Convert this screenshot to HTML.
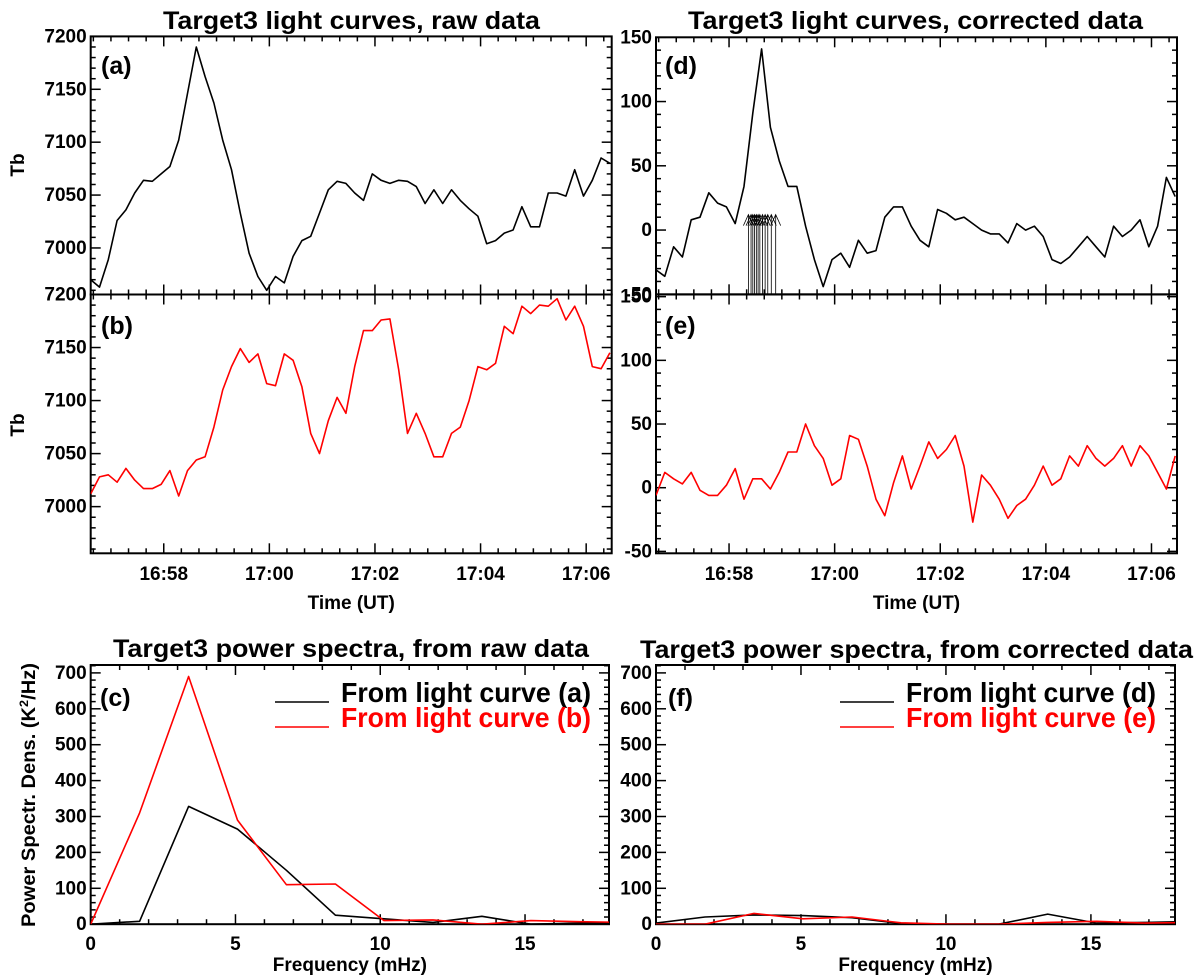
<!DOCTYPE html>
<html><head><meta charset="utf-8"><style>
html,body{margin:0;padding:0;background:#fff;}
svg{display:block;font-family:"Liberation Sans",Arial,sans-serif;font-weight:bold;}
</style></head><body>
<svg id="fig" width="1200" height="979" viewBox="0 0 1200 979" xmlns="http://www.w3.org/2000/svg"></svg>
<script>
// ---- data ----
const timeStartSec = 16*3600 + 56*60 + 37;   // left edge of time axes
const timeEndSec = timeStartSec + 592;
const sampleTimes = [];
for (let k = 0; k < 60; k++) sampleTimes.push(timeStartSec + 10*k);
const timeTickLabels = ["16:58","17:00","17:02","17:04","17:06"];
const rawA = [6970,6963,6989,7026,7036,7052,7064,7063,7070,7077,7102,7146,7190,7162,7137,7102,7074,7033,6995,6973,6960,6973,6967,6992,7007,7011,7033,7055,7063,7061,7052,7045,7070,7064,7061,7064,7063,7058,7042,7055,7042,7055,7045,7037,7030,7004,7007,7014,7017,7039,7020,7020,7052,7052,7049,7074,7049,7064,7085,7080];
const rawB = [7012,7028,7030,7023,7036,7025,7017,7017,7021,7034,7010,7034,7044,7047,7075,7110,7132,7149,7136,7144,7116,7114,7144,7138,7113,7069,7050,7081,7103,7088,7132,7166,7166,7176,7177,7129,7069,7088,7069,7047,7047,7069,7075,7100,7132,7129,7135,7170,7163,7189,7182,7190,7189,7196,7176,7189,7170,7132,7130,7145];
const corrD = [-31,-36,-13,-21,8,10,29,21,18,5,34,91,141,80,54,34,34,3,-23,-44,-23,-18,-29,-8,-18,-16,10,18,18,3,-8,-13,16,13,8,10,5,0,-3,-3,-10,5,0,3,-5,-23,-26,-21,-13,-5,-13,-21,3,-5,0,8,-13,3,41,26];
const corrE = [-6,12,7,3,12,-2,-6,-6,2,15,-9,7,7,-1,12,28,28,50,33,23,2,7,41,38,17,-9,-22,4,25,-1,17,36,23,30,41,17,-27,10,2,-9,-24,-14,-9,2,17,2,7,25,17,33,23,17,23,33,17,33,25,12,-1,25];
const arrowTimes = [105,108,110,112,114,116,118,121,124,127,131,136]; // seconds after timeStartSec
const freqs = [0,1.69,3.38,5.07,6.76,8.45,10.13,11.82,13.51,15.2,16.89,18.58];
const psdA = [0,8,328,265,150,25,15,5,22,0,3,5];
const psdB = [0,310,690,290,110,112,10,12,0,10,7,5];
const psdD = [3,20,26,24,18,2,0,0,28,3,5,8];
const psdE = [0,0,30,15,20,4,0,0,5,8,3,5];
const freqTickLabels = ["0","5","10","15"];

// ---- helpers ----
const NS = "http://www.w3.org/2000/svg";
const svg = document.getElementById("fig");
function mk(tag, attrs, parent) {
  const e = document.createElementNS(NS, tag);
  for (const k in attrs) e.setAttribute(k, attrs[k]);
  (parent || svg).appendChild(e);
  return e;
}
function txt(str, x, y, size, anchor, color, parent, len) {
  const t = mk("text", {x:x, y:y, "font-size":size, "text-anchor":anchor||"middle", fill:color||"#000"}, parent);
  if (len) { t.setAttribute("textLength", len); t.setAttribute("lengthAdjust", "spacingAndGlyphs"); }
  t.textContent = str;
  return t;
}
function makeScale(d0, d1, p0, p1) { return v => p0 + (v - d0) / (d1 - d0) * (p1 - p0); }

function panel(name, box, xr, yr, opts) {
  const g = mk("g", {});
  
  
  const sx = makeScale(xr[0], xr[1], box.x0, box.x1);
  const sy = makeScale(yr[0], yr[1], box.y1, box.y0);
  const frame = mk("rect", {x:box.x0, y:box.y0, width:box.x1-box.x0, height:box.y1-box.y0, fill:"none", stroke:"#000", "stroke-width":2}, g);
  
  
  for (let v = opts.xMinorStart; v <= xr[1] + 1e-9; v += opts.xMinor) {
    if (v < xr[0] - 1e-9) continue;
    const isMaj = Math.abs(((v - opts.xMajorStart) / opts.xMajor) - Math.round((v - opts.xMajorStart) / opts.xMajor)) < 1e-6;
    const L = isMaj ? 10 : 5;
    const x = sx(v);
    mk("line", {x1:x, x2:x, y1:box.y1, y2:box.y1-L, stroke:"#000", "stroke-width":1.5}, g);
    mk("line", {x1:x, x2:x, y1:box.y0, y2:box.y0+L, stroke:"#000", "stroke-width":1.5}, g);
  }
  for (let v = opts.yMinorStart; v <= yr[1] + 1e-9; v += opts.yMinor) {
    if (v < yr[0] - 1e-9) continue;
    const isMaj = Math.abs(((v - opts.yMajorStart) / opts.yMajor) - Math.round((v - opts.yMajorStart) / opts.yMajor)) < 1e-6;
    const L = isMaj ? 10 : 5;
    const y = sy(v);
    mk("line", {x1:box.x0, x2:box.x0+L, y1:y, y2:y, stroke:"#000", "stroke-width":1.5}, g);
    mk("line", {x1:box.x1, x2:box.x1-L, y1:y, y2:y, stroke:"#000", "stroke-width":1.5}, g);
    if (isMaj && opts.yLabels) {
      const lab = txt(String(Math.round(v)), box.x0 - 4, y + 6, 19, "end", "#000", g);
      
      
    }
  }
  return {g, sx, sy};
}
function series(p, xs, ys, color, name) {
  let d = "";
  for (let i = 0; i < xs.length; i++) {
    d += (i ? "L" : "M") + p.sx(xs[i]).toFixed(1) + "," + p.sy(ys[i]).toFixed(1);
  }
  const cp = "clip-" + name;
  const cl = mk("clipPath", {id: cp}, p.g);
  const r = p.g.querySelector("rect");
  mk("rect", {x:r.getAttribute("x"), y:r.getAttribute("y"), width:r.getAttribute("width"), height:r.getAttribute("height")}, cl);
  const path = mk("path", {d:d, fill:"none", stroke:color, "stroke-width":1.6, "stroke-linejoin":"round", "clip-path":"url(#"+cp+")"}, p.g);
  
  
  return path;
}

// ---- light curve panels ----
const tOpts = {xMinor:20, xMajor:120, xMinorStart:timeStartSec - (timeStartSec % 20) + 20, xMajorStart:16*3600+58*60};
const TbOpts = Object.assign({yMinor:10, yMajor:50, yMinorStart:6960, yMajorStart:7000, yLabels:true}, tOpts);
const pA = panel("panel-a", {x0:90.7, x1:611.7, y0:36.4, y1:294.5}, [timeStartSec, timeEndSec], [6956, 7200], TbOpts);
const pB = panel("panel-b", {x0:90.7, x1:611.7, y0:294.5, y1:553.3}, [timeStartSec, timeEndSec], [6956, 7200], TbOpts);
const cOpts = Object.assign({yMinor:10, yMajor:50, yMinorStart:-50, yMajorStart:0, yLabels:true}, tOpts);
const pD = panel("panel-d", {x0:656, x1:1177, y0:37.3, y1:294.3}, [timeStartSec, timeEndSec], [-50, 150], cOpts);
const pE = panel("panel-e", {x0:656, x1:1177, y0:294.5, y1:553.3}, [timeStartSec, timeEndSec], [-51.5, 151.7], cOpts);

series(pA, sampleTimes, rawA, "#000", "light-curve-a");
series(pB, sampleTimes, rawB, "#ff0000", "light-curve-b");
series(pD, sampleTimes, corrD, "#000", "light-curve-d");
series(pE, sampleTimes, corrE, "#ff0000", "light-curve-e");

for (let i = 0; i < arrowTimes.length; i++) {
  const x = pD.sx(timeStartSec + arrowTimes[i]);
  const yb = pD.sy(-50), yt = pD.sy(12);
  const a = mk("path", {d:`M${x},${yb}L${x},${yt}M${x-5},${yt+11}L${x},${yt}L${x+5},${yt+11}`, fill:"none", stroke:"#000", "stroke-width":0.8}, pD.g);
  
  
}

[pB, pE].forEach((p, j) => {
  for (let i = 0; i < timeTickLabels.length; i++) {
    const t = 16*3600 + 58*60 + 120*i;
    const lab = txt(timeTickLabels[i], p.sx(t), 580, 19, "middle", "#000", p.g);
    
    
  }
  const xt = txt("Time (UT)", (p.sx(timeStartSec)+p.sx(timeEndSec))/2, 609, 19, "middle", "#000", p.g);
  
  
});

// ---- spectra panels ----
const sOpts = {xMinor:1, xMajor:5, xMinorStart:0, xMajorStart:0, yMinor:20, yMajor:100, yMinorStart:0, yMajorStart:0, yLabels:true};
const pC = panel("panel-c", {x0:90.7, x1:609, y0:665, y1:924.2}, [0, 17.9], [0, 722], sOpts);
const pF = panel("panel-f", {x0:656, x1:1175, y0:665, y1:924.2}, [0, 17.9], [0, 722], sOpts);
series(pC, freqs, psdA, "#000", "spectrum-a");
series(pC, freqs, psdB, "#ff0000", "spectrum-b");
series(pF, freqs, psdD, "#000", "spectrum-d");
series(pF, freqs, psdE, "#ff0000", "spectrum-e");
[pC, pF].forEach(p => {
  for (let i = 0; i < freqTickLabels.length; i++) {
    const lab = txt(freqTickLabels[i], p.sx(Number(freqTickLabels[i])), 950, 19, "middle", "#000", p.g);
    
    
  }
  const xt = txt("Frequency (mHz)", (p.sx(0)+p.sx(17.9))/2, 971, 19, "middle", "#000", p.g);
  
  
});

function legend(p, x0, labels, colors) {
  for (let i = 0; i < labels.length; i++) {
    const y = 702 + 25*i;
    const ln = mk("line", {x1:x0, x2:x0+54, y1:y, y2:y, stroke:colors[i], "stroke-width":1.6}, p.g);
    
    
    const t = txt(labels[i], x0+66, y, 28, "start", colors[i], p.g, 250);
    
    
  }
}
legend(pC, 275, ["From light curve (a)", "From light curve (b)"], ["#000", "#ff0000"]);
legend(pF, 840, ["From light curve (d)", "From light curve (e)"], ["#000", "#ff0000"]);

[[pA,"(a)",101,74],[pB,"(b)",101,334],[pC,"(c)",100,706],[pD,"(d)",665,74],[pE,"(e)",665,334],[pF,"(f)",668,706]].forEach(a => {
  const t = txt(a[1], a[2], a[3], 25, "start", "#000", a[0].g);
  
  
});

[["Target3 light curves, raw data",351.5,29,377],["Target3 light curves, corrected data",915.5,29,455],
 ["Target3 power spectra, from raw data",351,657,476],["Target3 power spectra, from corrected data",916.5,658,553]].forEach(a => {
  const t = txt(a[0], a[1], a[2], 25, "middle", "#000", null, a[3]);
  
  
});

[165, 425].forEach(cy => {
  const t = txt("Tb", 0, 0, 19, "middle", "#000");
  t.setAttribute("transform", `translate(24,${cy}) rotate(-90)`);
  
  
});
const pt = mk("text", {x:0, y:0, "font-size":19, "text-anchor":"middle", fill:"#000", transform:"translate(35,795) rotate(-90)", textLength:264, lengthAdjust:"spacingAndGlyphs"});


pt.appendChild(document.createTextNode("Power Spectr. Dens. (K"));
const sup = mk("tspan", {dy:-7, "font-size":12}, pt); sup.textContent = "2";
const rest = mk("tspan", {dy:7}, pt); rest.textContent = "/Hz)";
</script>
</body></html>
